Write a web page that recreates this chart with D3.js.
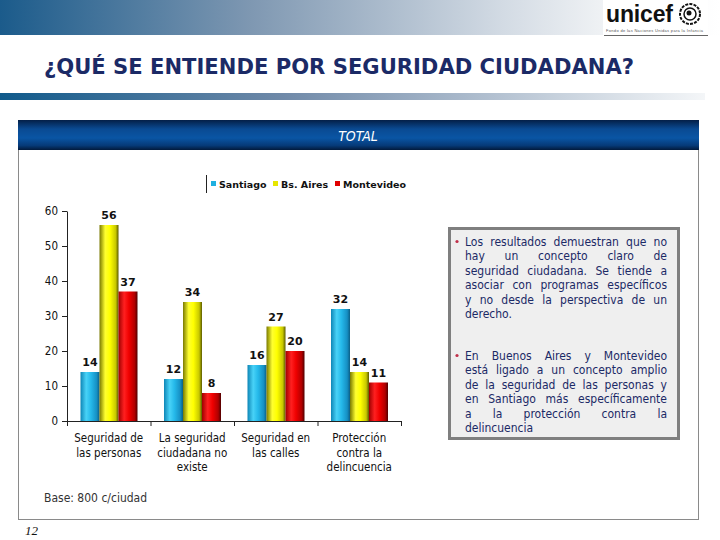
<!DOCTYPE html>
<html><head><meta charset="utf-8">
<script src="https://cdn.jsdelivr.net/npm/d3@7"></script>
<style>html,body{margin:0;padding:0;background:#fff;}svg{display:block;}</style>
</head><body>
<svg id="c" width="720" height="540"></svg>
<script>
const categories = ["Seguridad de las personas", "La seguridad ciudadana no existe", "Seguridad en las calles", "Protección contra la delincuencia"];
const categoryLines = [["Seguridad de", "las personas"], ["La seguridad", "ciudadana no", "existe"], ["Seguridad en", "las calles"], ["Protección", "contra la", "delincuencia"]];
const seriesNames = ["Santiago", "Bs. Aires", "Montevideo"];
const santiago = [14, 12, 16, 32];
const bsAires = [56, 34, 27, 14];
const montevideo = [37, 8, 20, 11];
const yTicks = [0, 10, 20, 30, 40, 50, 60];
const bullet1 = ["Los resultados demuestran que no", "hay un concepto claro de", "seguridad ciudadana. Se tiende a", "asociar con programas específicos", "y no desde la perspectiva de un", "derecho."];
const bullet2 = ["En Buenos Aires y Montevideo", "está ligado a un concepto amplio", "de la seguridad de las personas y", "en Santiago más específicamente", "a la protección contra la", "delincuencia"];

const seriesValues = [santiago, bsAires, montevideo];
const svg = d3.select("#c");
const defs = svg.append("defs");

function lg(id, stops, vertical) {
  const g = defs.append("linearGradient").attr("id", id)
    .attr("x1", 0).attr("y1", 0).attr("x2", vertical ? 0 : 1).attr("y2", vertical ? 1 : 0);
  stops.forEach(s => g.append("stop").attr("offset", s[0]).attr("stop-color", s[1]));
}
lg("hdr", [[0, "#1b5b8b"], [0.35, "#7f98b2"], [0.7, "#d3dbe4"], [0.85, "#f2f4f6"], [1, "#ffffff"]]);
lg("bar2", [[0, "#105a8b"], [0.4, "#6f89a8"], [0.8, "#c9d3de"], [1, "#f4f6f8"]]);
lg("tot", [[0, "#041f47"], [0.3, "#0a4a92"], [0.6, "#0a55a4"], [0.85, "#063a78"], [1, "#021a3c"]], true);
lg("g0", [[0, "#0e86b6"], [0.3, "#48d2f7"], [0.55, "#25b9ea"], [0.85, "#1690c4"], [1, "#0a5f86"]]);
lg("g1", [[0, "#7a7a00"], [0.3, "#ffff30"], [0.55, "#ffff00"], [0.85, "#c8c800"], [1, "#5a5a00"]]);
lg("g2", [[0, "#a00000"], [0.3, "#ff2020"], [0.55, "#f00000"], [0.85, "#b00000"], [1, "#500000"]]);
const legendColors = ["#1fb0e0", "#e6e600", "#e00000"];

const cond = "DejaVu Sans Condensed, DejaVu Sans, sans-serif";

// header gradient band
svg.append("rect").attr("x", 0).attr("y", 0).attr("width", 720).attr("height", 35).attr("fill", "url(#hdr)");
// logo
const logo = svg.append("g");
logo.append("rect").attr("x", 603).attr("y", 0).attr("width", 105).attr("height", 36).attr("fill", "#fff");
logo.append("text").attr("x", 606).attr("y", 22).attr("font-family", "Arial, Liberation Sans, sans-serif")
  .attr("font-weight", "bold").attr("font-size", 23).attr("fill", "#111").attr("textLength", 67).text("unicef");
logo.append("circle").attr("cx", 690).attr("cy", 14).attr("r", 10).attr("fill", "none").attr("stroke", "#111").attr("stroke-width", 2).attr("stroke-dasharray", "3 1.2");
logo.append("circle").attr("cx", 690).attr("cy", 14).attr("r", 6).attr("fill", "none").attr("stroke", "#111").attr("stroke-width", 1.5);
logo.append("circle").attr("cx", 689).attr("cy", 13).attr("r", 2.5).attr("fill", "#111");
logo.append("text").attr("x", 606).attr("y", 32).attr("font-family", "Arial, sans-serif").attr("font-size", 4)
  .attr("fill", "#555").attr("textLength", 97).text("Fondo de las Naciones Unidas para la Infancia");
logo.append("line").attr("x1", 604).attr("x2", 708).attr("y1", 35.5).attr("y2", 35.5).attr("stroke", "#666");

// title
svg.append("text").attr("x", 44).attr("y", 74).attr("font-family", cond)
  .attr("font-weight", "bold").attr("font-size", 21.5).attr("fill", "#1b2a66")
  .attr("textLength", 590).attr("lengthAdjust", "spacingAndGlyphs")
  .text("¿QUÉ SE ENTIENDE POR SEGURIDAD CIUDADANA?");
svg.append("rect").attr("x", 0).attr("y", 93).attr("width", 705).attr("height", 7).attr("fill", "url(#bar2)");

// panel
svg.append("rect").attr("x", 18.5).attr("y", 120.5).attr("width", 680).attr("height", 399).attr("fill", "#fff").attr("stroke", "#8a8a8a");
svg.append("rect").attr("x", 18).attr("y", 120).attr("width", 681).attr("height", 30).attr("fill", "url(#tot)");
svg.append("text").attr("x", 358).attr("y", 141).attr("text-anchor", "middle").attr("font-family", cond)
  .attr("font-style", "italic").attr("font-size", 14).attr("fill", "#fff").text("TOTAL");

// chart
const x = d3.scaleBand().domain(categories).range([67, 401]).paddingInner(0).paddingOuter(0);
const xs = d3.scaleBand().domain(seriesNames).range([13.5, 70.5]);
const y = d3.scaleLinear().domain([0, 60]).range([421, 211]);

const yAxis = svg.append("g").attr("transform", "translate(67,0)")
  .call(d3.axisLeft(y).tickValues(yTicks).tickSize(5).tickSizeOuter(0).tickPadding(4));
yAxis.select(".domain").attr("stroke", "#222");
yAxis.selectAll("line").attr("stroke", "#222");
yAxis.selectAll("text").attr("font-family", cond).attr("font-size", 11.5).attr("fill", "#111");

const xAxis = svg.append("g").attr("transform", "translate(0,421)");
xAxis.append("line").attr("x1", 67).attr("x2", 401).attr("y1", 0.5).attr("y2", 0.5).attr("stroke", "#222");
const bounds = categories.map(c => x(c)).concat([x.range()[1]]);
xAxis.selectAll("line.t").data(bounds).join("line").attr("class", "t")
  .attr("x1", d => d + 0.5).attr("x2", d => d + 0.5).attr("y1", 0).attr("y2", 5).attr("stroke", "#222");

categories.forEach((c, i) => {
  const t = svg.append("text").attr("text-anchor", "middle").attr("font-family", cond)
    .attr("font-size", 11.5).attr("fill", "#111");
  categoryLines[i].forEach((ln, k) => {
    t.append("tspan").attr("x", x(c) + x.bandwidth() / 2).attr("y", 442 + k * 14.5).text(ln);
  });
});

seriesNames.forEach((s, si) => {
  const vals = seriesValues[si];
  const g = svg.append("g");
  g.selectAll("rect").data(categories).join("rect")
    .attr("x", c => x(c) + xs(s)).attr("width", xs.bandwidth())
    .attr("y", (c, i) => y(vals[i])).attr("height", (c, i) => y(0) - y(vals[i]))
    .attr("fill", `url(#g${si})`);
  g.selectAll("text").data(categories).join("text")
    .attr("x", c => x(c) + xs(s) + xs.bandwidth() / 2).attr("y", (c, i) => y(vals[i]) - 6)
    .attr("text-anchor", "middle").attr("font-family", "DejaVu Sans, Verdana, sans-serif").attr("font-weight", "bold")
    .attr("font-size", 11).attr("fill", "#111").text((c, i) => vals[i]);
});

// legend
const leg = svg.append("g");
leg.append("line").attr("x1", 206.5).attr("x2", 206.5).attr("y1", 175).attr("y2", 193).attr("stroke", "#222");
const legX = [211, 273, 335];
seriesNames.forEach((s, i) => {
  leg.append("rect").attr("x", legX[i]).attr("y", 181).attr("width", 5).attr("height", 5).attr("fill", legendColors[i]);
  leg.append("text").attr("x", legX[i] + 8).attr("y", 188).attr("font-family", "DejaVu Sans, Verdana, sans-serif")
    .attr("font-weight", "bold").attr("font-size", 9.5).attr("fill", "#111").text(s);
});

// text box
svg.append("rect").attr("x", 449.5).attr("y", 228.5).attr("width", 229).attr("height", 210)
  .attr("fill", "#efefef").attr("stroke", "#7f7f7f").attr("stroke-width", 3);
function para(lines, y0) {
  svg.append("circle").attr("cx", 457).attr("cy", y0 - 4).attr("r", 1.6).attr("fill", "#c0304a");
  const x0 = 465, W = 202;
  lines.forEach((ln, k) => {
    const yy = y0 + k * 14.5;
    const words = ln.split(" ");
    const ts = words.map(w => svg.append("text").attr("x", x0).attr("y", yy)
      .attr("font-family", cond).attr("font-size", 12).attr("fill", "#1b2a66").text(w));
    const widths = ts.map(t => t.node().getComputedTextLength());
    const total = d3.sum(widths);
    const last = k === lines.length - 1;
    const gap = (last || words.length < 2) ? 3.8 : (W - total) / (words.length - 1);
    let cx = x0;
    ts.forEach((t, j) => { t.attr("x", cx); cx += widths[j] + gap; });
  });
}
para(bullet1, 245.5);
para(bullet2, 359.5);

svg.append("text").attr("x", 44).attr("y", 502).attr("font-family", cond)
  .attr("font-size", 12).attr("fill", "#333").text("Base: 800 c/ciudad");
svg.append("text").attr("x", 25).attr("y", 535).attr("font-family", "Liberation Serif, serif")
  .attr("font-style", "italic").attr("font-size", 13).attr("fill", "#111").text("12");
</script>
</body></html>
